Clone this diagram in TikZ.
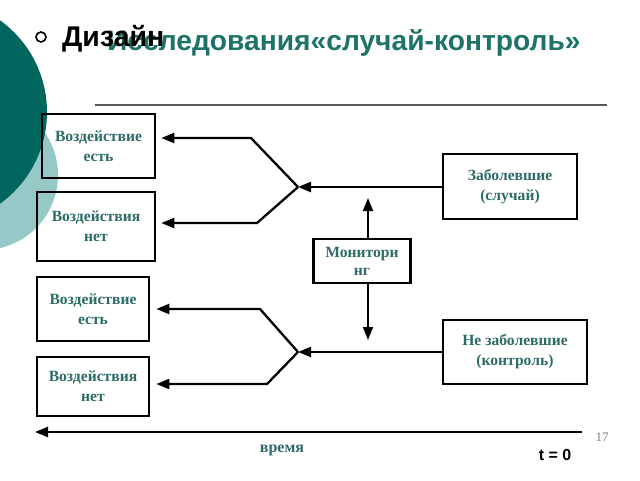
\documentclass[tikz,border=0pt]{standalone}
\usepackage{fontspec}
\setmainfont{Liberation Serif}
\setsansfont{Liberation Sans}
\usetikzlibrary{positioning, arrows.meta}
\definecolor{tealdark}{RGB}{0,102,94}
\definecolor{teallight}{RGB}{150,200,200}
\definecolor{tealtext}{RGB}{44,108,100}
\definecolor{tealtitle}{RGB}{30,115,105}
\tikzset{>={Triangle[length=13pt,width=10pt]},
box/.style={draw, line width=2.6pt, align=center, inner sep=0pt, text=tealtext,
  font=\fontsize{15.6}{20}\selectfont\bfseries},
flow/.style={->, line width=2.3pt},
}

\begin{document}
\begin{tikzpicture}[x=1pt, y=-1pt]
    \useasboundingbox (0,0) rectangle (640,480);
    \clip (0,0) rectangle (640,480);
    \fill[teallight] (-17,175) circle (75);
    \fill[tealdark] (-66,112) circle (113);

    \draw[gray!70!black, line width=1.2pt] (95,105) -- (607,105);
    \node[draw, circle, line width=1.6pt, minimum size=10pt, inner sep=0pt] (bul) at (41,37) {};
    \node[anchor=base west, inner sep=0pt, text=tealtitle, font=\sffamily\bfseries\fontsize{28.2}{30}\selectfont] (title) at (107,50) {Исследования«случай-контроль»};
    \node[anchor=base west, inner sep=0pt, font=\sffamily\bfseries\fontsize{28.5}{30}\selectfont] (dz) at (62,46) {Дизайн};

    \node[box, minimum width=113pt, minimum height=64pt] (yes1) at (98.5,146) {Воздействие\\есть};
    \node[box, minimum width=118pt, minimum height=69pt] (no1) at (96,226.5) {Воздействия\\нет};
    \node[box, minimum width=112pt, minimum height=64pt] (yes2) at (93,309) {Воздействие\\есть};
    \node[box, minimum width=112pt, minimum height=59pt] (no2) at (93,386.5) {Воздействия\\нет};
    \node[box, minimum width=97pt, minimum height=44pt, font=\fontsize{15.6}{18}\selectfont\bfseries] (mon) at (362,261) {Монитори\\нг};
    \node[box, minimum width=134pt, minimum height=65pt] (case) at (510,186.5) {Заболевшие\\(случай)};
    \node[box, minimum width=144pt, minimum height=64pt] (ctrl) at (515,352) {Не заболевшие\\(контроль)};

    \coordinate (j1) at (298,187);
    \coordinate (j2) at (298,352);
    \coordinate (k1) at (251,138);
    \coordinate (k2) at (257,223);
    \coordinate (k3) at (260,309);
    \coordinate (k4) at (267,384);
    \coordinate (m1) at (368,198);
    \coordinate (m2) at (368,340);
    \coordinate (t0) at (582,432);
    \coordinate (t1) at (35,432);

    \draw[flow] (case.west |- j1) -- (j1);
    \draw[flow] (ctrl.west |- j2) -- (j2);
    \draw[flow, shorten >=5pt] (j1) -- (k1) -- (k1 -| yes1.east);
    \draw[flow, shorten >=5pt] (j1) -- (k2) -- (k2 -| no1.east);
    \draw[flow, shorten >=6pt] (j2) -- (k3) -- (k3 -| yes2.east);
    \draw[flow, shorten >=6pt] (j2) -- (k4) -- (k4 -| no2.east);
    \draw[flow, line width=1.8pt] (mon.north -| m1) -- (m1);
    \draw[flow, line width=1.8pt] (mon.south -| m2) -- (m2);
    \draw[flow, line width=2.5pt] (t0) -- (t1);

    \node[text=tealtext, font=\fontsize{16}{18}\selectfont\bfseries] (time) at (282,450) {время};
    \node[font=\sffamily\bfseries\fontsize{16}{18}\selectfont] (tzero) at (555,455) {t = 0};
    \node[text=gray, font=\fontsize{13}{15}\selectfont] (page) at (602,437) {17};
\end{tikzpicture}
\end{document}
